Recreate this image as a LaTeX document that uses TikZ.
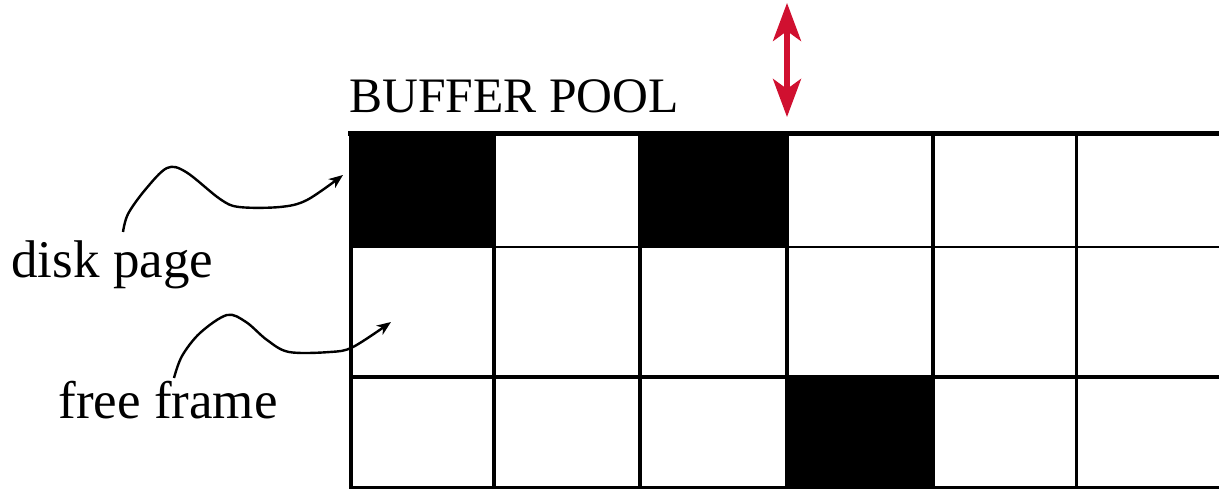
\documentclass[tikz,border=0pt]{standalone}
\usepackage{fontspec}
\setmainfont{Liberation Serif}
\usetikzlibrary{arrows.meta}
\definecolor{poolred}{RGB}{208,16,48}
\begin{document}
\begin{tikzpicture}[x=0.5pt,y=-0.5pt,
  lbl/.style={inner sep=0pt,anchor=base west,font=\fontsize{#1}{28}\selectfont},
  squig/.style={line width=1.2pt,-{Stealth[length=7pt,width=5.5pt,inset=2pt]}},
  gline/.style={line width=#1},
  io/.style={poolred,line width=2.6pt,{Stealth[length=19pt,width=14pt,inset=5pt]}-{Stealth[length=19pt,width=14pt,inset=5pt]}}]
\useasboundingbox (0,0) rectangle (1219,490);
% filled (occupied) frames
\fill (350,133) rectangle (496,247);
\fill (638,133) rectangle (788,247);
\fill (788,377) rectangle (932,488);
% horizontal lines
\draw[gline=2.5pt] (348,134) -- (1219,134);
\draw[gline=1.4pt] (350,247) -- (1219,247);
\draw[gline=1.9pt] (350,377) -- (1219,377);
\draw[gline=1.8pt] (350,487.5) -- (1219,487.5);
% vertical lines
\draw[gline=2.1pt] (351,133) -- (351,489);
\draw[gline=1.8pt] (494,133) -- (494,489);
\draw[gline=1.8pt] (640,133) -- (640,489);
\draw[gline=1.9pt] (787,133) -- (787,489);
\draw[gline=2.3pt] (933,133) -- (933,489);
\draw[gline=1.5pt] (1076,133) -- (1076,489);
% labels
\node[lbl=24.8] (bp) at (349,113) {BUFFER POOL};
\node[lbl=26.5] (dp) at (11,278) {disk page};
\node[lbl=26.5] (ff) at (58,419) {free frame};
% arrow ends
\coordinate (dps) at (123,232);
\coordinate (dpt) at (343,175);
\coordinate (ffs) at (174,378);
\coordinate (fft) at (391,322);
\coordinate (iot) at (787,3);
\coordinate (iob) at (787,117);
\draw[squig] plot[smooth,tension=0.55] coordinates {(dps) (128,214) (145,190) (167,168) (186,172) (220,199) (239,207) (280,207) (307,200) (dpt)};
\draw[squig] plot[smooth,tension=0.55] coordinates {(ffs) (182,356) (200,333) (227,315) (246,322) (267,340) (289,352) (330,352) (353,347) (fft)};
\draw[io] (iot) -- (iob);
\end{tikzpicture}
\end{document}
